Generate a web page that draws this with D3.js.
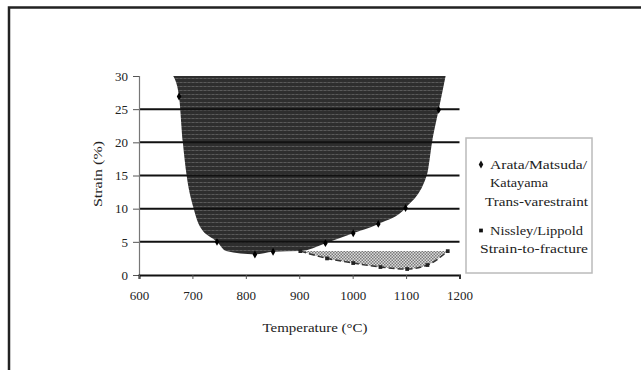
<!DOCTYPE html>
<html>
<head>
<meta charset="utf-8">
<script src="https://cdn.jsdelivr.net/npm/d3@7"></script>
<style>
  html, body { margin: 0; padding: 0; background: #fff; }
  svg { display: block; }
  text { font-family: "Liberation Serif", "DejaVu Serif", serif; fill: #222; }
</style>
</head>
<body>
<svg id="chart" width="641" height="370"></svg>
<script>
// Arata/Matsuda/Katayama trans-varestraint envelope (temperature, strain %)
var arataTemp   = [664, 675, 682, 689, 702, 714, 746, 763, 817, 851, 902, 949, 1001, 1048, 1099, 1139, 1149, 1161, 1174];
var arataStrain = [30, 26.9, 20.1, 15.1, 10.1, 7.3, 5.0, 3.6, 3.1, 3.5, 3.6, 4.8, 6.3, 7.7, 10.1, 15.1, 20.2, 24.9, 30];
// markers shown on that curve
var arataMarkTemp   = [675, 746, 817, 851, 949, 1001, 1048, 1099, 1161];
var arataMarkStrain = [26.9, 5.0, 3.1, 3.5, 4.8, 6.3, 7.7, 10.1, 24.9];
// Nissley/Lippold strain-to-fracture
var nissleyTemp   = [902, 952, 1001, 1052, 1102, 1140, 1178];
var nissleyStrain = [3.6, 2.5, 1.8, 1.2, 0.9, 1.5, 3.6];
var nissleyTop = 3.6;

var xTicks = [600, 700, 800, 900, 1000, 1100, 1200];
var yTicks = [0, 5, 10, 15, 20, 25, 30];
var legendItems = [
  { shape: 'diamond', lines: ['Arata/Matsuda/', 'Katayama', 'Trans-varestraint'] },
  { shape: 'square',  lines: ['Nissley/Lippold', 'Strain-to-fracture'] }
];

var svg = d3.select('#chart');

// outer frame (only top and left edges fall inside the picture)
svg.append('rect')
  .attr('x', 9).attr('y', 7.5).attr('width', 700).attr('height', 400)
  .attr('fill', 'none').attr('stroke', '#222').attr('stroke-width', 2.5);

var defs = svg.append('defs');
var stripes = defs.append('pattern').attr('id', 'stripes')
  .attr('patternUnits', 'userSpaceOnUse').attr('width', 4).attr('height', 4);
stripes.append('rect').attr('width', 4).attr('height', 4).attr('fill', '#2e2e2e');
stripes.append('rect').attr('y', 2).attr('width', 2).attr('height', 1).attr('fill', '#5a5a5a');
stripes.append('rect').attr('x', 2).attr('y', 2).attr('width', 2).attr('height', 1).attr('fill', '#484848');

var checks = defs.append('pattern').attr('id', 'checks')
  .attr('patternUnits', 'userSpaceOnUse').attr('width', 3).attr('height', 3);
checks.append('rect').attr('width', 3).attr('height', 3).attr('fill', '#dcdcdc');
checks.append('rect').attr('width', 1.5).attr('height', 1.5).attr('fill', '#7a7a7a');
checks.append('rect').attr('x', 1.5).attr('y', 1.5).attr('width', 1.5).attr('height', 1.5).attr('fill', '#7a7a7a');

var x = d3.scaleLinear().domain([600, 1200]).range([139, 459.5]);
var y = d3.scaleLinear().domain([0, 30]).range([275, 76]);

// dark envelope
var arata = arataTemp.map(function (t, i) { return { t: t, s: arataStrain[i] }; });
svg.append('path').datum(arata)
  .attr('d', d3.area().curve(d3.curveMonotoneX)
    .x(function (d) { return x(d.t); })
    .y0(y(30))
    .y1(function (d) { return y(d.s); }))
  .attr('fill', 'url(#stripes)');

// hatched strain-to-fracture region
var nissley = nissleyTemp.map(function (t, i) { return { t: t, s: nissleyStrain[i] }; });
svg.append('path').datum(nissley)
  .attr('d', d3.area().curve(d3.curveMonotoneX)
    .x(function (d) { return x(d.t); })
    .y0(y(nissleyTop))
    .y1(function (d) { return y(d.s); }))
  .attr('fill', 'url(#checks)');
svg.append('path').datum(nissley)
  .attr('d', d3.line().curve(d3.curveMonotoneX)
    .x(function (d) { return x(d.t); })
    .y(function (d) { return y(d.s); }))
  .attr('fill', 'none').attr('stroke', '#333').attr('stroke-width', 1.5)
  .attr('stroke-dasharray', '6,3');

// gridlines on top of the areas
svg.append('g').selectAll('line').data(yTicks.filter(function (v) { return v > 0 && v < 30; }))
  .enter().append('line')
  .attr('x1', x(600)).attr('x2', x(1200))
  .attr('y1', function (d) { return y(d); }).attr('y2', function (d) { return y(d); })
  .attr('stroke', '#111').attr('stroke-width', 2);

// axes
var yAxis = svg.append('g').attr('transform', 'translate(' + x(600) + ',0)')
  .call(d3.axisLeft(y).tickValues(yTicks).tickSize(6).tickPadding(5));
var xAxis = svg.append('g').attr('transform', 'translate(0,' + y(0) + ')')
  .call(d3.axisBottom(x).tickValues(xTicks).tickFormat(d3.format('d')).tickSize(4).tickPadding(12));
yAxis.select('.domain').attr('stroke', '#777').attr('stroke-width', 1.2);
yAxis.selectAll('.tick line').attr('stroke', '#555');
xAxis.select('.domain').attr('stroke', '#111').attr('stroke-width', 2);
xAxis.selectAll('.tick line').attr('stroke', '#555');
svg.selectAll('.tick text').attr('font-family', '"Liberation Serif", serif')
  .attr('font-size', 13).attr('fill', '#222');

// markers
var diamond = d3.symbol().type(d3.symbolDiamond).size(18);
svg.append('g').selectAll('path').data(arataMarkTemp).enter().append('path')
  .attr('d', diamond)
  .attr('transform', function (d, i) { return 'translate(' + x(d) + ',' + y(arataMarkStrain[i]) + ')'; })
  .attr('fill', '#000');
var square = d3.symbol().type(d3.symbolSquare).size(14);
svg.append('g').selectAll('path').data(nissleyTemp).enter().append('path')
  .attr('d', square)
  .attr('transform', function (d, i) { return 'translate(' + x(d) + ',' + y(nissleyStrain[i]) + ')'; })
  .attr('fill', '#222');

// axis titles
svg.append('text').attr('x', 315).attr('y', 332).attr('text-anchor', 'middle')
  .attr('font-size', 13).attr('textLength', 105).attr('lengthAdjust', 'spacingAndGlyphs')
  .text('Temperature (°C)');
svg.append('text').attr('transform', 'translate(102,174) rotate(-90)').attr('text-anchor', 'middle')
  .attr('font-size', 13).attr('textLength', 66).attr('lengthAdjust', 'spacingAndGlyphs')
  .text('Strain (%)');

// legend
var legend = svg.append('g');
legend.append('rect').attr('x', 466).attr('y', 138).attr('width', 126).attr('height', 135)
  .attr('fill', '#fff').attr('stroke', '#bbb').attr('stroke-width', 1.5);
var rowY = [168.5, 234.5];
var lineX = [[490, 490, 485], [490, 480]];
var lineW = [[97, 58, 103], [93, 108]];
legendItems.forEach(function (item, i) {
  var sym = item.shape === 'diamond' ? diamond : square;
  legend.append('path').attr('d', sym)
    .attr('transform', 'translate(481,' + (rowY[i] - 4) + ')').attr('fill', '#111');
  item.lines.forEach(function (ln, j) {
    legend.append('text')
      .attr('x', lineX[i][j])
      .attr('y', rowY[i] + j * 18.5)
      .attr('font-size', 13)
      .attr('textLength', lineW[i][j]).attr('lengthAdjust', 'spacingAndGlyphs')
      .text(ln);
  });
});
</script>
</body>
</html>
